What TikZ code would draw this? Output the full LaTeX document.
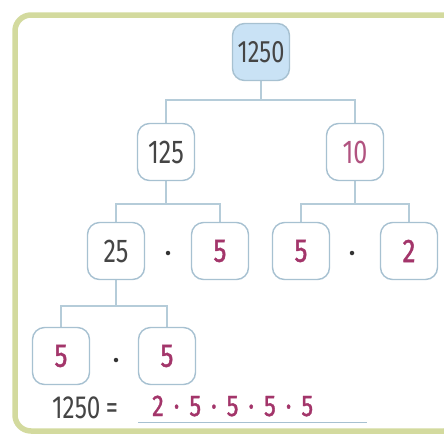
\documentclass[tikz,border=0pt]{standalone}
\usepackage{fontspec}
\setmainfont{Fira Sans}[FakeStretch=0.76]
\newfontfamily\magfont{Fira Sans}[FakeStretch=0.78,FakeBold=1.2]
\pgfdeclarelayer{bg}
\pgfsetlayers{bg,main}
\begin{document}
\begin{tikzpicture}[x=1pt,y=-1pt,
  box/.style={draw=boxc, line width=1.4pt, rounded corners=12pt, fill=white,
    minimum width=57pt, minimum height=57pt, inner sep=0pt, text=numc,
    font=\fontsize{33}{33}\selectfont},
  mag/.style={text=magc, font=\magfont\fontsize{33}{33}\selectfont},
  conn/.style={draw=connc, line width=2.4pt},
  mdot/.style={circle, fill=black!80, inner sep=0pt, minimum size=4.5pt}]
\definecolor{framec}{HTML}{D3DA9E}
\definecolor{boxc}{HTML}{A7C1D1}
\definecolor{connc}{HTML}{B5CCD9}
\definecolor{numc}{HTML}{454545}
\definecolor{magc}{HTML}{A3356A}
\definecolor{rootc}{HTML}{C9E2F5}
\useasboundingbox (0,0) rectangle (444,440);
\clip (0,0) rectangle (444,440);
\draw[framec, line width=5.5pt, rounded corners=16pt] (15,15) rectangle (460,431);
\node[box, fill=rootc, font=\fontsize{31}{31}\selectfont] (r) at (261,52) {1250};
\node[box] (a) at (166,152) {125};
\node[box, text=magc!85] (b) at (355,152) {10};
\node[box] (c) at (116,251) {25};
\node[box, mag] (d) at (220,251) {5};
\node[box, mag] (e) at (301,251) {5};
\node[box, mag] (f) at (409,251) {2};
\node[box, mag] (g) at (61,356) {5};
\node[box, mag] (h) at (167,356) {5};
\node[mdot] (m1) at (168,253) {};
\node[mdot] (m2) at (352,253) {};
\node[mdot] (m3) at (116,360) {};
\begin{pgfonlayer}{bg}
\draw[conn] (r.south) -- ++(0,19);
\draw[conn] (a.north) -- ++(0,-23) -| (b.north);
\draw[conn] (a.south) -- ++(0,23);
\draw[conn] (c.north) -- ++(0,-18) -| (d.north);
\draw[conn] (b.south) -- ++(0,23);
\draw[conn] (e.north) -- ++(0,-18) -| (f.north);
\draw[conn] (c.south) -- ++(0,26);
\draw[conn] (g.north) -- ++(0,-21) -| (h.north);
\end{pgfonlayer}
% bottom equation
\node[anchor=west, inner sep=0pt, text=numc, font=\fontsize{32}{32}\selectfont] (eq) at (52,408) {1250\,=};
\node[anchor=west, inner sep=0pt, text=magc, font=\magfont\fontsize{30}{30}\selectfont] (res) at (152,406) {2\,\,·\,\,5\,\,·\,\,5\,\,·\,\,5\,\,·\,\,5};
\coordinate (u1) at (138,422);
\coordinate (u2) at (367,422);
\draw[draw=boxc, line width=1pt] (u1) -- (u2);
\end{tikzpicture}
\end{document}
